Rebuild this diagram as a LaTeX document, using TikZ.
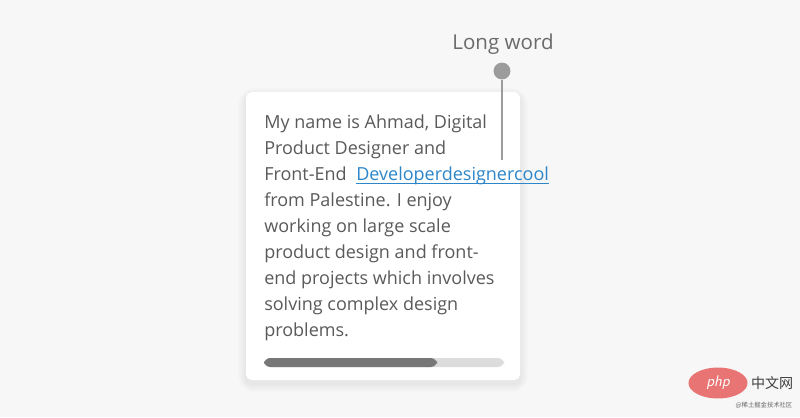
\documentclass[tikz,border=0pt]{standalone}
\usepackage{fontspec}
\setmainfont{Open Sans}
\newfontfamily\cjkfont{Noto Sans CJK SC}
\usepackage{tikz}
\usetikzlibrary{positioning,shapes.geometric}
\definecolor{pagebg}{HTML}{F7F7F7}
\definecolor{bodytext}{HTML}{5A5A5A}
\definecolor{labeltext}{HTML}{6A6A6A}
\definecolor{linkblue}{HTML}{2D86C9}
\definecolor{pingray}{HTML}{9C9C9C}
\definecolor{barlight}{HTML}{DCDCDC}
\definecolor{bardark}{HTML}{777777}
\definecolor{phpred}{HTML}{E97474}

\begin{document}
\begin{tikzpicture}[x=0.025cm,y=-0.025cm,
    line/.style={anchor=base west,inner sep=0pt,text=bodytext,font=\fontsize{12.8}{14}\selectfont}]
                \useasboundingbox[fill=pagebg] (0,0) rectangle (800,417);
                % card with soft shadow
                \foreach \s in {1,2,...,8}
                    \fill[black,opacity=0.008,rounded corners=4+\s] (246-\s,92-\s+4) rectangle (520+\s,380+\s+4);
                \fill[white,rounded corners=4] (246,92) rectangle (520,380);
                
                \node[line] (l1) at (264,128) {My name is Ahmad, Digital};
                \node[line] (l2) at (264,154) {Product Designer and};
                \node[line] (l3) at (264,180) {Front-End};
                \node[line,text=linkblue,right=9 of l3.base east,anchor=base west] (link) {Developerdesignercool};
                \draw[linkblue,line width=0.7pt] ([yshift=-2.2]link.base west) -- ([yshift=-2.2]link.base east);
                \node[line] (l4) at (264,206) {from Palestine. I enjoy};
                \node[line] (l5) at (264,232) {working on large scale};
                \node[line] (l6) at (264,258) {product design and front-};
                \node[line] (l7) at (264,284) {end projects which involves};
                \node[line] (l8) at (264,310) {solving complex design};
                \node[line] (l9) at (264,336) {problems.};
                
                % progress bar
                \fill[barlight,rounded corners=4.5] (264,358) rectangle (504,367);
                \fill[bardark,rounded corners=4.5] (264,358) rectangle (437,367);
                
                % long word pin
                \node[text=labeltext,font=\fontsize{14.6}{16}\selectfont,inner sep=0pt] (long) at (503,44) {Long word};
                \node[circle,fill=pingray,inner sep=0pt,minimum size=12] (pin) at (502,71) {};
                \coordinate (tip) at (502,160);
                \draw[pingray,line width=1.4pt] (pin) -- (tip);
                
                % watermark
                \node[ellipse,fill=phpred,minimum width=42,minimum height=22,inner sep=0pt,text=white,font=\sffamily\itshape\fontsize{11}{11}\selectfont] (php) at (718,383) {php};
                \node[right=3 of php,inner sep=0pt,text=black!75,font=\cjkfont\fontsize{10}{10}\selectfont] (cn) {中文网};
                \node[inner sep=0pt,text=black!60,font=\cjkfont\fontsize{4.5}{5}\selectfont] (sub) at (764,405) {@稀土掘金技术社区};
            \end{tikzpicture}
\end{document}
